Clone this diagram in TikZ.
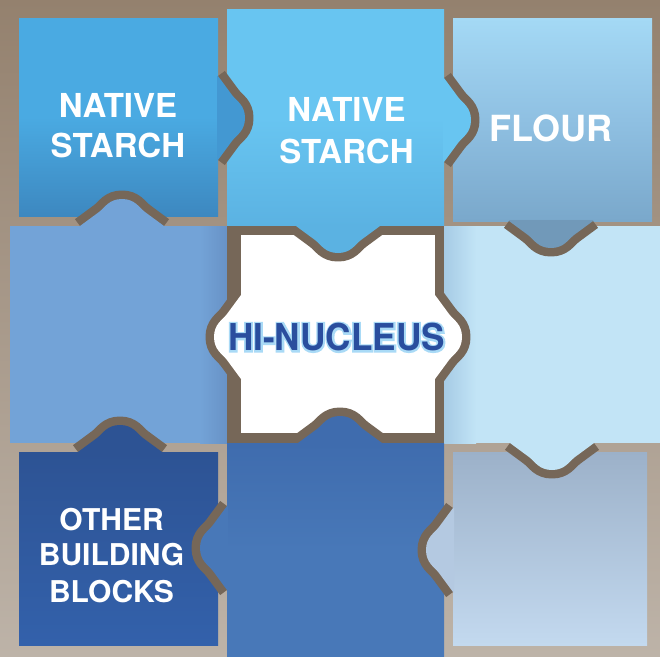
\documentclass[tikz,border=0pt]{standalone}
\usepackage{fontspec}
\setmainfont{TeX Gyre Heros}
\newfontface\glowface{TeX Gyre Heros Bold}[FakeBold=10]
\definecolor{bgtop}{HTML}{94816E}
\definecolor{bgmid}{HTML}{A39381}
\definecolor{bgbot}{HTML}{BDB3A8}
\definecolor{bandc}{HTML}{766758}
\definecolor{Atop}{HTML}{4AAAE2}
\definecolor{Abot}{HTML}{3D88C0}
\definecolor{Atab}{HTML}{4398D2}
\definecolor{Btop}{HTML}{68C5F1}
\definecolor{Bbot}{HTML}{5BB2E2}
\definecolor{Ctop}{HTML}{A4D9F5}
\definecolor{Cmid}{HTML}{8FC0E2}
\definecolor{Cbot}{HTML}{7AA8CB}
\definecolor{Ctab}{HTML}{7199B9}
\definecolor{Dcol}{HTML}{73A3D7}
\definecolor{Dedge}{HTML}{6892C6}
\definecolor{Fcol}{HTML}{C2E4F6}
\definecolor{Fedge}{HTML}{A6CBE5}
\definecolor{Gtop}{HTML}{2D5394}
\definecolor{Gbot}{HTML}{3361AB}
\definecolor{Htop}{HTML}{3F6CAE}
\definecolor{Hcol}{HTML}{4878B8}
\definecolor{Itop}{HTML}{9CB1C9}
\definecolor{Ibot}{HTML}{C3D9EF}
\definecolor{Itab}{HTML}{B4C9E1}
\definecolor{nucblue}{HTML}{2A4E9E}
\definecolor{nucglow}{HTML}{A9DAF6}
\newcommand\tabcurve{(-42,0) -- (-23,14) .. controls (-17,18.5) and (-13,27) .. (0,27)
        .. controls (13,27) and (17,18.5) .. (23,14) -- (42,0)}
\tikzset{
  pics/tab/.style={code={
    \begin{scope}
      \clip (-80,0) rectangle (80,60);
      \draw[line width=17pt, draw=bandc, line join=round] \tabcurve;
    \end{scope}
    \fill[#1] (-42,-1) -- \tabcurve -- (42,-1) -- cycle;
  }},
  lbl/.style={text=white, anchor=base, inner sep=0pt, font=\bfseries},
}
\begin{document}
\begin{tikzpicture}[x=1pt,y=-1pt]
\useasboundingbox (0,0) rectangle (660,656);
% background
\shade[top color=bgtop, middle color=bgmid, bottom color=bgbot] (0,0) rectangle (660,656);
% pieces (rectangles)
\shade[top color=Atop, bottom color=Abot, middle color=Atop] (19,18) rectangle (218,216);
\shade[top color=Btop, bottom color=Bbot, middle color=Btop] (227,9) rectangle (444,226);
\shade[top color=Ctop, bottom color=Cbot, middle color=Cmid] (453,18) rectangle (652,221);
\fill[Dcol] (10,226) rectangle (227,443);
\shade[left color=Dcol, right color=Dedge] (200,226) rectangle (227,443);
\fill[Fcol] (444,226) rectangle (660,443);
\shade[left color=Fedge, right color=Fcol] (444,226) rectangle (476,443);
\shade[top color=Gtop, bottom color=Gbot] (19,452) rectangle (218,645);
\shade[top color=Htop, bottom color=Hcol, middle color=Hcol] (227,443) rectangle (444,656);
\shade[top color=Itop, bottom color=Ibot] (453,452) rectangle (647,645);
% centre piece in its frame
\fill[bandc] (227,226) rectangle (444,443);
\fill[white] (241,235) rectangle (435,433);
% tabs
\pic[rotate=90]  at (218,118) {tab=Atab};
\pic[rotate=90]  at (444,120) {tab=Btop};
\pic[rotate=0]   at (338,226) {tab=Bbot};
\pic[rotate=0]   at (551,221) {tab=Ctab};
\pic[rotate=180] at (122,226) {tab=Dcol};
\pic[rotate=-90] at (241,337) {tab=white};
\pic[rotate=90]  at (435,337) {tab=white};
\pic[rotate=0]   at (552,443) {tab=Fcol};
\pic[rotate=180] at (120,452) {tab=Gtop};
\pic[rotate=180] at (340,443) {tab=Htop};
\pic[rotate=-90] at (227,548) {tab=Hcol};
\pic[rotate=-90] at (453,550) {tab=Itab};
% labels
\node[lbl, font=\bfseries\fontsize{33}{36}\selectfont] (a1) at (118,117.9) {NATIVE};
\node[lbl, font=\bfseries\fontsize{33}{36}\selectfont] (a2) at (118,157.9) {STARCH};
\node[lbl, font=\bfseries\fontsize{33}{36}\selectfont] (b1) at (346.5,121.4) {NATIVE};
\node[lbl, font=\bfseries\fontsize{33}{36}\selectfont] (b2) at (346.5,163.4) {STARCH};
\node[lbl, font=\bfseries\fontsize{36}{40}\selectfont] (c1) at (551,141) {FLOUR};
\node[lbl, font=\bfseries\fontsize{30}{34}\selectfont] (g1) at (111.5,530.3) {OTHER};
\node[lbl, font=\bfseries\fontsize{30}{34}\selectfont] (g2) at (111.5,565.8) {BUILDING};
\node[lbl, font=\bfseries\fontsize{30}{34}\selectfont] (g3) at (111.5,602.8) {BLOCKS};
\node[anchor=base, inner sep=0pt, text=nucblue, font=\fontsize{37}{40}\selectfont, xscale=0.95, transform shape] (e1) at (336.5,350.8)
  {\rlap{\glowface\color{nucglow}HI-NUCLEUS}\bfseries HI-NUCLEUS};
\end{tikzpicture}
\end{document}
